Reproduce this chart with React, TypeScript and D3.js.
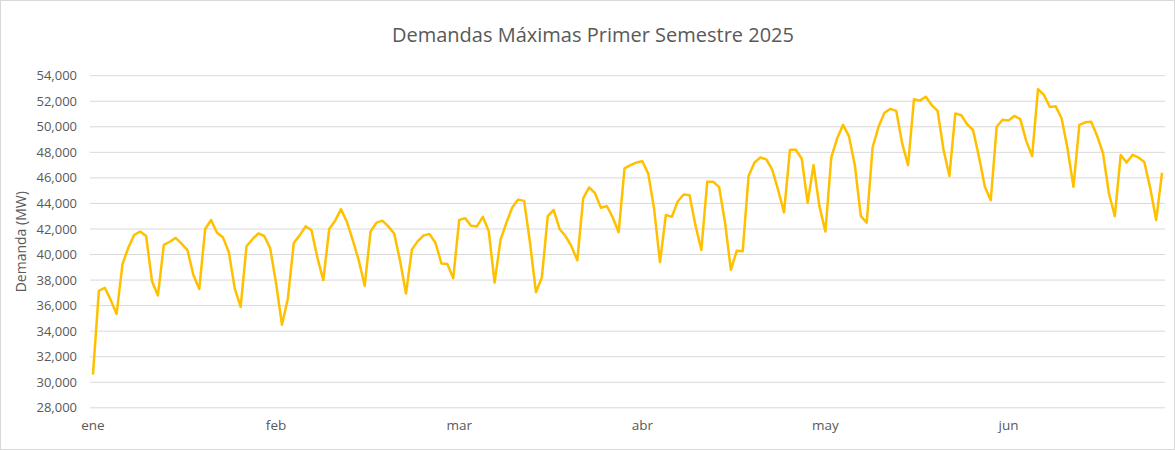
import React from "react";
import * as d3 from "d3";

// Daily peak demand (MW), first half of 2025
const demand = [
  30600, 37150, 37400, 36450, 35350, 39250, 40550, 41550, 41800, 41450,
  37900, 36800, 40750, 41000, 41300, 40850, 40350, 38400, 37300, 42000,
  42700, 41700, 41350, 40200, 37350, 35900, 40650, 41200, 41650, 41450,
  40500, 37750, 34500, 36550, 40900, 41500, 42200, 41900, 39750, 38000,
  42000, 42650, 43550, 42550, 41100, 39550, 37550, 41800, 42500, 42650,
  42200, 41650, 39500, 36950, 40400, 41050, 41500, 41600, 40900, 39300,
  39250, 38150, 42700, 42850, 42250, 42200, 42950, 41850, 37800, 41150,
  42500, 43700, 44300, 44200, 40900, 37050, 38200, 43000, 43500, 42000,
  41450, 40650, 39550, 44400, 45250, 44800, 43650, 43800, 42900, 41750,
  46750, 47000, 47200, 47300, 46350, 43600, 39400, 43100, 42950, 44150,
  44700, 44650, 42300, 40350, 45700, 45700, 45300, 42550, 38800, 40300,
  40250, 46150, 47200, 47600, 47450, 46650, 45050, 43300, 48200, 48200,
  47500, 44050, 47000, 43750, 41800, 47600, 49100, 50150, 49250, 46950,
  43000, 42500, 48400, 50000, 51100, 51400, 51250, 48700, 47000, 52150,
  52050, 52350, 51700, 51250, 48200, 46150, 51050, 50900, 50200, 49750,
  47650, 45300, 44250, 50000, 50550, 50500, 50850, 50600, 48900, 47700,
  52950, 52500, 51550, 51600, 50650, 48300, 45300, 50150, 50350, 50400,
  49300, 47950, 44800, 43000, 47800, 47200, 47800, 47600, 47250, 45200,
  42700, 46400,
];

// month labels shown every 31 points on the category axis
const monthLabels = ["ene", "feb", "mar", "abr", "may", "jun"];
const monthIndex = [0, 31, 62, 93, 124, 155];

const yTicks = d3.range(28000, 54001, 2000);

const width = 1175;
const height = 450;
const font = "'Open Sans', sans-serif";
const textColor = "#595959";

export default function App() {
  const left = 90;
  const right = 1165;
  const top = 75.7;
  const bottom = 407.8;

  // one band per point, line drawn through band centres
  const x = d3
    .scaleBand<number>()
    .domain(demand.map((_, i) => i))
    .range([left, right]);
  const cx = (i: number) => (x(i) ?? 0) + x.bandwidth() / 2;

  const y = d3.scaleLinear().domain([28000, 54000]).range([bottom, top]);

  const line = d3
    .line<number>()
    .x((_, i) => cx(i))
    .y((d) => y(d));

  const fmt = d3.format(",");

  return (
    <svg
      width={width}
      height={height}
      style={{ position: "absolute", left: 0, top: 0, background: "#fff" }}
    >
      <rect x={0.5} y={0.5} width={width - 1} height={height - 1} fill="#fff" stroke="#d9d9d9" />
      <text
        x={593}
        y={42}
        textAnchor="middle"
        fontFamily={font}
        fontSize={20}
        fill={textColor}
      >
        Demandas Máximas Primer Semestre 2025
      </text>

      {yTicks.map((t) => (
        <g key={t}>
          <line x1={left} x2={right} y1={y(t)} y2={y(t)} stroke="#d9d9d9" strokeWidth={1} />
          <text
            x={77}
            y={y(t)}
            dy="0.35em"
            textAnchor="end"
            fontFamily={font}
            fontSize={13}
            fill={textColor}
          >
            {fmt(t)}
          </text>
        </g>
      ))}

      {monthIndex.map((idx, k) => (
        <text
          key={idx}
          x={cx(idx)}
          y={430}
          textAnchor="middle"
          fontFamily={font}
          fontSize={13.5}
          fill={textColor}
        >
          {monthLabels[k]}
        </text>
      ))}

      <text
        transform={`translate(26,${(top + bottom) / 2}) rotate(-90)`}
        textAnchor="middle"
        fontFamily={font}
        fontSize={14}
        fill={textColor}
      >
        Demanda (MW)
      </text>

      <path
        d={line(demand) ?? ""}
        fill="none"
        stroke="#FFC000"
        strokeWidth={2.5}
        strokeLinejoin="round"
      />
    </svg>
  );
}
